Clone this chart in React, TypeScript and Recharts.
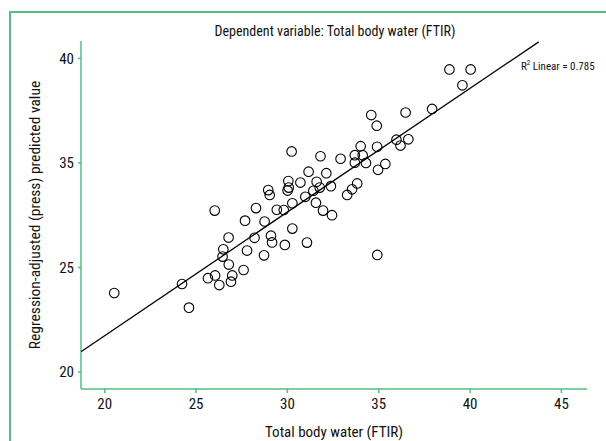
import React from "react";
import { ScatterChart, Scatter, XAxis, YAxis, Label } from "recharts";

// Total body water (FTIR) — x
const twx = [
  38.87, 40.03, 39.58, 37.92, 36.47, 34.59, 34.89, 35.97, 36.19, 36.62,
  34.91, 34.01, 33.69, 34.12, 33.69, 34.3, 32.91, 31.81, 30.23, 34.96,
  35.36, 33.82, 33.54, 33.27, 31.16, 32.13, 31.6, 32.38, 31.77, 31.42,
  30.98, 31.56, 30.05, 30.71, 30.07, 30.01, 28.95, 29.03, 30.27, 29.8,
  29.42, 28.28, 26.02, 31.95, 32.44, 30.27, 27.68, 28.75, 26.78, 28.2,
  29.1, 29.16, 29.86, 31.07, 26.49, 27.79, 26.45, 28.72, 26.79, 27.6,
  26.04, 25.65, 26.98, 26.27, 26.91, 24.23, 20.52, 24.61, 34.92,
];
// Regression-adjusted (press) predicted value — y
const pred = [
  39.47, 39.47, 38.71, 37.58, 37.41, 37.29, 36.78, 36.11, 35.83, 36.13,
  35.77, 35.8, 35.37, 35.37, 35.01, 35.0, 35.2, 35.32, 35.55, 34.67,
  34.95, 34.02, 33.74, 33.47, 34.58, 34.51, 34.1, 33.89, 33.82, 33.67,
  33.38, 33.1, 34.13, 34.06, 33.82, 33.68, 33.7, 33.47, 33.07, 32.75,
  32.76, 32.84, 32.72, 32.72, 32.5, 31.86, 32.24, 32.2, 31.43, 31.42,
  31.52, 31.2, 31.08, 31.19, 30.87, 30.81, 30.52, 30.58, 30.14, 29.88,
  29.62, 29.49, 29.62, 29.16, 29.32, 29.21, 28.78, 28.08, 30.6,
];
// fit line end points
const fitLine = [
  { x: 18.7, y: 25.97 },
  { x: 43.76, y: 40.79 },
];
const xTicks = [20, 25, 30, 35, 40, 45];
// the printed y labels skip "30", so tick positions and texts differ
const yTicks = [25, 30, 35, 40];
const yTickLabels = ["20", "25", "35", "40"];

const points = twx.map((x, i) => ({ x, y: pred[i] }));

const FONT = '"Liberation Sans Narrow", "Roboto Condensed", "DejaVu Sans Condensed", sans-serif';
const GREEN = "#52be80";

const Ring = (p: any) => (
  <circle cx={p.cx} cy={p.cy} r={4.8} fill="none" stroke="#000" strokeWidth={1.1} />
);

const YTitle = ({ viewBox }: any) => {
  const cx = viewBox.x + 35;
  const cy = viewBox.y + viewBox.height / 2;
  return (
    <text
      x={cx}
      y={cy}
      transform={`rotate(-90 ${cx} ${cy})`}
      textAnchor="middle"
      dominantBaseline="central"
      fontSize={15.5}
      fontFamily={FONT}
      fill="#111"
    >
      Regression-adjusted (press) predicted value
    </text>
  );
};

export default function App() {
  return (
    <div style={{ position: "absolute", left: 0, top: 0, width: 606, height: 441, background: "#fff", fontFamily: FONT }}>
      {/* green frame, only left + top visible */}
      <div style={{ position: "absolute", left: 9, top: 11, right: 0, bottom: 0, borderLeft: `2px solid ${GREEN}`, borderTop: `2px solid ${GREEN}` }} />
      <div style={{ position: "absolute", left: 0, width: 670, top: 23, textAlign: "center", fontSize: 14, color: "#111" }}>
        Dependent variable: Total body water (FTIR)
      </div>
      <div style={{ position: "absolute", left: 521, top: 59, fontSize: 11, color: "#111", whiteSpace: "nowrap" }}>
        R<sup style={{ fontSize: 7 }}>2</sup> Linear = 0.785
      </div>
      <ScatterChart width={606} height={441} margin={{ top: 41, right: 19, bottom: 0, left: 0 }}>
        <XAxis
          type="number"
          dataKey="x"
          domain={[18.7, 46.4]}
          ticks={xTicks}
          allowDataOverflow
          height={52}
          axisLine={{ stroke: GREEN, strokeWidth: 1.5 }}
          tickLine={{ stroke: GREEN, strokeWidth: 1.5 }}
          tickSize={4}
          tickMargin={5}
          tick={{ fill: "#111", fontSize: 15, fontFamily: FONT }}
        >
          <Label value="Total body water (FTIR)" position="insideBottom" offset={4} fontSize={15} fontFamily={FONT} fill="#111" />
        </XAxis>
        <YAxis
          type="number"
          dataKey="y"
          domain={[24.19, 40.83]}
          ticks={yTicks}
          tickFormatter={(v: number) => yTickLabels[yTicks.indexOf(v)]}
          allowDataOverflow
          width={81}
          axisLine={{ stroke: GREEN, strokeWidth: 1.5 }}
          tickLine={{ stroke: GREEN, strokeWidth: 1.5 }}
          tickSize={3}
          tickMargin={4}
          tick={{ fill: "#111", fontSize: 15, fontFamily: FONT }}
        >
          <Label content={YTitle} />
        </YAxis>
        <Scatter data={fitLine} line={{ stroke: "#000", strokeWidth: 1.3 }} shape={() => null} isAnimationActive={false} />
        <Scatter data={points} shape={Ring} isAnimationActive={false} />
      </ScatterChart>
    </div>
  );
}
